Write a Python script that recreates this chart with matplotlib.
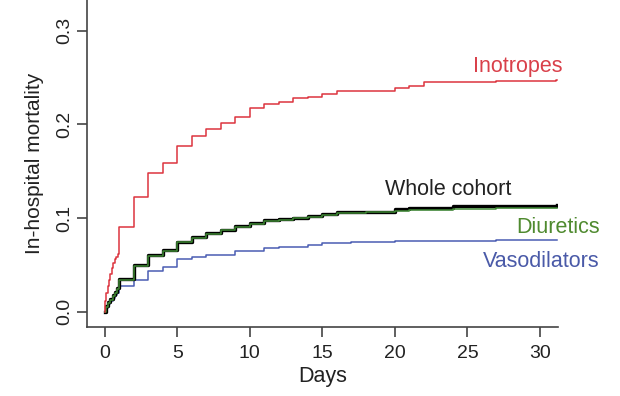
import matplotlib
matplotlib.use("Agg")
import matplotlib.pyplot as plt

plt.rcParams['font.family'] = ['Liberation Sans', 'DejaVu Sans']

# step curves: day of each step and cumulative mortality after it
ino_t = [0, 0.05, 0.12, 0.2, 0.3, 0.4, 0.5, 0.6, 0.7, 0.8, 0.9, 1, 2, 3, 4, 5, 6, 7, 8, 9,
         10, 11, 12, 13, 14, 15, 16, 20, 21, 22, 27, 31.1, 31.2]
ino_y = [0, 0.012, 0.02, 0.027, 0.034, 0.04, 0.047, 0.052, 0.056, 0.059, 0.062, 0.091,
         0.123, 0.148, 0.159, 0.177, 0.188, 0.195, 0.202, 0.208, 0.217, 0.222, 0.224,
         0.228, 0.229, 0.232, 0.236, 0.239, 0.241, 0.245, 0.246, 0.247, 0.247]

whole_t = [0, 0.1, 0.25, 0.4, 0.55, 0.7, 0.85, 1, 2, 3, 4, 5, 6, 7, 8, 9, 10, 11, 12, 13,
           14, 15, 16, 18, 20, 21, 24, 27, 31.2]
whole_y = [0, 0.006, 0.01, 0.014, 0.018, 0.021, 0.025, 0.035, 0.050, 0.061, 0.066, 0.075,
           0.080, 0.084, 0.0875, 0.092, 0.095, 0.0975, 0.099, 0.1006, 0.1025, 0.104,
           0.106, 0.107, 0.1096, 0.1107, 0.1124, 0.113, 0.114]

diur_t = [0, 0.1, 0.25, 0.4, 0.55, 0.7, 0.85, 1, 2, 3, 4, 5, 6, 7, 8, 9, 10, 11, 12, 13,
          14, 15, 16, 18, 20, 21, 24, 27, 31.2]
diur_y = [0, 0.005, 0.009, 0.013, 0.017, 0.02, 0.024, 0.034, 0.049, 0.060, 0.065, 0.074,
          0.079, 0.083, 0.087, 0.091, 0.094, 0.097, 0.098, 0.100, 0.1015, 0.103,
          0.105, 0.106, 0.108, 0.109, 0.1095, 0.1105, 0.111]

vaso_t = [0, 0.1, 0.25, 0.4, 0.55, 0.7, 0.85, 1, 2, 3, 4, 5, 6, 7, 9, 11, 12, 14, 15, 17,
          20, 27, 31.2]
vaso_y = [0, 0.004, 0.008, 0.011, 0.015, 0.018, 0.02, 0.027, 0.034, 0.044, 0.048, 0.0566,
          0.058, 0.061, 0.0654, 0.068, 0.0695, 0.0712, 0.0733, 0.075, 0.0758, 0.0768, 0.077]

fig = plt.figure(figsize=(6.2, 3.96), dpi=100)
ax = fig.add_axes([0.1403, 0.1748, 0.7597, 0.8252])

ax.step(vaso_t, vaso_y, where='post', color='#4a5db3', lw=1.1)
ax.step(whole_t, whole_y, where='post', color='black', lw=2.4)
ax.step(diur_t, diur_y, where='post', color='#3f8a35', lw=1.1)
ax.step(ino_t, ino_y, where='post', color='#dc343e', lw=1.1)

ax.set_xlim(-1.22, 31.24)
ax.set_ylim(-0.016, 0.3328)
ax.set_xticks([0, 5, 10, 15, 20, 25, 30])
ax.set_yticks([0.0, 0.1, 0.2, 0.3])
ax.set_yticklabels(['0.0', '0.1', '0.2', '0.3'], rotation=90, va='center')

for s in ['top', 'right']:
    ax.spines[s].set_visible(False)
for s in ['left', 'bottom']:
    ax.spines[s].set_color('#444444')
    ax.spines[s].set_linewidth(1.2)
ax.tick_params(direction='out', length=7, width=1.2, color='#444444',
               labelsize=14, labelcolor='#222222', pad=6)
ax.tick_params(axis='y', pad=3)

ax.set_xlabel('Days', fontsize=15.5, color='#222222', labelpad=3)
ax.set_ylabel('In-hospital mortality', fontsize=15, color='#222222', labelpad=9)

ax.text(28.5, 0.262, 'Inotropes', color='#d9404a', fontsize=15.5,
        ha='center', va='center', clip_on=False)
ax.text(23.7, 0.131, 'Whole cohort', color='#222222', fontsize=15.5,
        ha='center', va='center', clip_on=False)
ax.text(34.1, 0.0896, 'Diuretics', color='#4f8a2f', fontsize=15.5,
        ha='right', va='center', clip_on=False)
ax.text(34.1, 0.054, 'Vasodilators', color='#4a5aa8', fontsize=15.5,
        ha='right', va='center', clip_on=False)

fig.savefig('out.png', dpi=100)
